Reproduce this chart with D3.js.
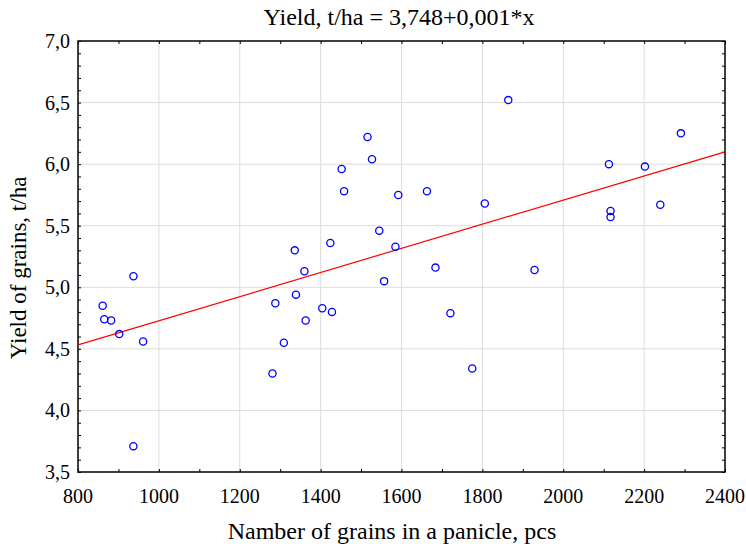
<!DOCTYPE html>
<html>
<head>
<meta charset="utf-8">
<script src="https://cdn.jsdelivr.net/npm/d3@7"></script>
<style>
  body { margin: 0; background: #fff; }
</style>
</head>
<body>
<svg id="chart" width="746" height="544"></svg>
<script>
// data
const grains = [861, 865, 882, 902, 937, 961, 937, 1281, 1288, 1309, 1336, 1339, 1360, 1363, 1404, 1428,
  1424, 1452, 1458, 1516, 1527, 1545, 1557, 1585, 1592, 1663, 1684, 1721, 1775, 1806, 1864, 1929,
  2113, 2117, 2117, 2202, 2240, 2291];
const yieldTha = [4.85, 4.74, 4.73, 4.62, 5.09, 4.56, 3.71, 4.30, 4.87, 4.55, 5.30, 4.94, 5.13, 4.73, 4.83, 4.80,
  5.36, 5.96, 5.78, 6.22, 6.04, 5.46, 5.05, 5.33, 5.75, 5.78, 5.16, 4.79, 4.34, 5.68, 6.52, 5.14,
  6.00, 5.62, 5.57, 5.98, 5.67, 6.25];
const xTicks = [800, 1000, 1200, 1400, 1600, 1800, 2000, 2200, 2400];
const yTicks = [3.5, 4.0, 4.5, 5.0, 5.5, 6.0, 6.5, 7.0];
const fitIntercept = 3.748, fitSlope = 0.00098;
const titleText = "Yield, t/ha = 3,748+0,001*x";

const serif = "'Times New Roman', Times, 'Liberation Serif', 'DejaVu Serif', serif";
const svg = d3.select("#chart");
const mLeft = 78, mRight = 725, mTop = 41, mBottom = 472;

const x = d3.scaleLinear().domain([800, 2400]).range([mLeft, mRight]);
const y = d3.scaleLinear().domain([3.5, 7.0]).range([mBottom, mTop]);
const fmt = v => d3.format(".1f")(v).replace(".", ",");

// grid
svg.append("g").selectAll("line").data(xTicks.slice(1, -1)).join("line")
  .attr("x1", d => x(d)).attr("x2", d => x(d)).attr("y1", mTop).attr("y2", mBottom)
  .attr("stroke", "#dcdcdc").attr("stroke-width", 1);
svg.append("g").selectAll("line").data(yTicks.slice(1, -1)).join("line")
  .attr("y1", d => y(d)).attr("y2", d => y(d)).attr("x1", mLeft).attr("x2", mRight)
  .attr("stroke", "#dcdcdc").attr("stroke-width", 1);

// axes with inward minor ticks
const xMinor = d3.range(800, 2401, 100);
const yMinor = d3.range(35, 71, 1).map(d => d / 10);
svg.append("g").attr("transform", `translate(0,${mBottom})`)
  .call(d3.axisTop(x).tickValues(xMinor).tickSize(3).tickFormat(""))
  .call(g => g.select(".domain").remove());
svg.append("g").attr("transform", `translate(0,${mTop})`)
  .call(d3.axisBottom(x).tickValues(xMinor).tickSize(3).tickFormat(""))
  .call(g => g.select(".domain").remove());
svg.append("g").attr("transform", `translate(${mLeft},0)`)
  .call(d3.axisRight(y).tickValues(yMinor).tickSize(3).tickFormat(""))
  .call(g => g.select(".domain").remove());
svg.append("g").attr("transform", `translate(${mRight},0)`)
  .call(d3.axisLeft(y).tickValues(yMinor).tickSize(3).tickFormat(""))
  .call(g => g.select(".domain").remove());

svg.append("rect").attr("x", mLeft).attr("y", mTop).attr("width", mRight - mLeft).attr("height", mBottom - mTop)
  .attr("fill", "none").attr("stroke", "#000").attr("stroke-width", 1.5);

// tick labels
svg.append("g").selectAll("text").data(xTicks).join("text")
  .attr("x", d => x(d)).attr("y", 503).attr("text-anchor", "middle")
  .attr("font-family", serif).attr("font-size", 20).text(d => d);
svg.append("g").selectAll("text").data(yTicks).join("text")
  .attr("x", 70).attr("y", d => y(d) + 7).attr("text-anchor", "end")
  .attr("font-family", serif).attr("font-size", 20).text(fmt);

// regression line
svg.append("line")
  .attr("x1", x(800)).attr("y1", y(fitIntercept + fitSlope * 800))
  .attr("x2", x(2400)).attr("y2", y(fitIntercept + fitSlope * 2400))
  .attr("stroke", "#ff0000").attr("stroke-width", 1.2);

// points
svg.append("g").selectAll("circle").data(grains).join("circle")
  .attr("cx", d => x(d)).attr("cy", (d, i) => y(yieldTha[i])).attr("r", 3.6)
  .attr("fill", "none").attr("stroke", "#0000ff").attr("stroke-width", 1.3);

// titles
svg.append("text").attr("x", 399).attr("y", 25).attr("text-anchor", "middle")
  .attr("font-family", serif).attr("font-size", 24).text(titleText);
svg.append("text").attr("x", 392).attr("y", 539).attr("text-anchor", "middle")
  .attr("font-family", serif).attr("font-size", 24).text("Namber of grains in a panicle, pcs");
svg.append("text").attr("transform", "translate(26,268) rotate(-90)").attr("text-anchor", "middle")
  .attr("font-family", serif).attr("font-size", 23).text("Yield of grains, t/ha");
</script>
</body>
</html>
